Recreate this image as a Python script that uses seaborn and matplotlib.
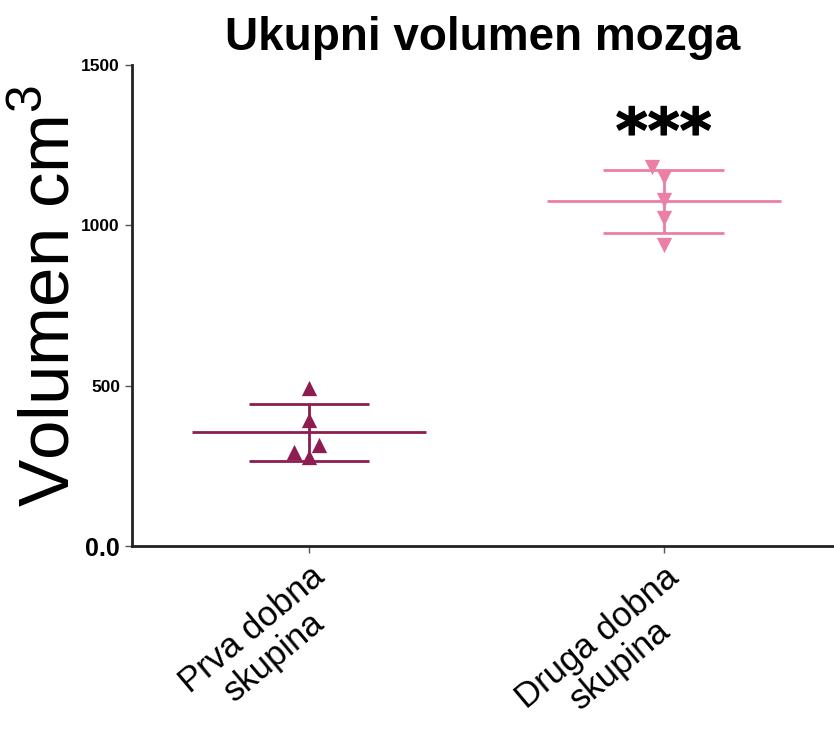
import numpy as np
import pandas as pd
import matplotlib
matplotlib.use('Agg')
import matplotlib.pyplot as plt
import matplotlib.patheffects as pe
import seaborn as sns

# values (cm3)
groups = ['Prva dobna\nskupina', 'Druga dobna\nskupina']
prva = [493, 393, 315, 278, 293]
druga = [1182, 1151, 1079, 1023, 939]
colors = ['#8e1c50', '#ec7fa5']
markers = ['^', 'v']
yticks = [0, 500, 1000, 1500]
ytick_labels = ['0.0', '500', '1000', '1500']

df = pd.DataFrame({
    'skupina': [groups[0]] * len(prva) + [groups[1]] * len(druga),
    'volumen': prva + druga,
})

sns.set_style('ticks')
plt.rcParams['font.family'] = ['Liberation Sans', 'DejaVu Sans']
plt.rcParams['mathtext.fontset'] = 'custom'
plt.rcParams['mathtext.rm'] = 'Liberation Sans'
plt.rcParams['text.color'] = 'black'

fig = plt.figure(figsize=(8.34, 7.35), dpi=100)
ax = fig.add_axes([0.158, 0.257, 0.842, 0.6544])

for i, g in enumerate(groups):
    sub = df[df.skupina == g]
    sns.swarmplot(data=sub, x='skupina', y='volumen', order=groups,
                  color=colors[i], marker=markers[i], size=11, ax=ax)
    m = sub.volumen.mean()
    sd = sub.volumen.std()
    ax.hlines(m, i - 0.33, i + 0.33, color=colors[i], lw=2, zorder=1)
    ax.hlines([m - sd, m + sd], i - 0.17, i + 0.17, color=colors[i], lw=2, zorder=1)
    ax.vlines(i, m - sd, m + sd, color=colors[i], lw=2, zorder=1)

ax.text(1, 1281, '***', ha='center', va='center', fontsize=44,
        fontweight='bold', family='DejaVu Sans',
        path_effects=[pe.withStroke(linewidth=1, foreground='black')])

ax.set_xlim(-0.5, 1.48)
ax.set_ylim(0, 1500)
ax.set_yticks(yticks)
ax.set_yticklabels(ytick_labels, fontweight='bold', fontsize=12.5, color='black')
ax.get_yticklabels()[0].set_fontsize(18)
ax.set_xticks(range(len(groups)))
ax.set_xticklabels(groups, rotation=40, ha='right', rotation_mode='anchor',
                   fontsize=25, multialignment='center', color='black',
                   linespacing=1.1)
ax.set_xlabel('')
ax.set_ylabel('Volumen cm$^3$', fontsize=51, color='black')
ax.yaxis.set_label_coords(-0.067, 0.52)
ax.set_title('Ukupni volumen mozga', fontsize=33, fontweight='bold', pad=11,
             color='black')

sns.despine(ax=ax)
for s in ['left', 'bottom']:
    ax.spines[s].set_linewidth(2)
    ax.spines[s].set_color('#222222')
ax.tick_params(width=1, length=5, color='#555555')
ax.tick_params(axis='x', pad=5)

fig.savefig('out.png', dpi=100)
